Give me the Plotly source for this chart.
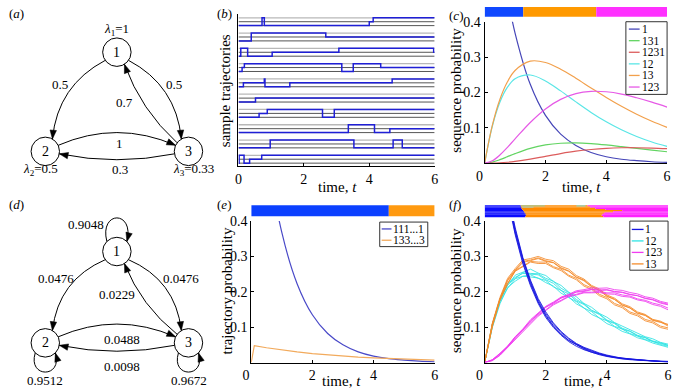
import math
import plotly.graph_objects as go

FONT = "Liberation Serif, Times New Roman, DejaVu Serif, serif"
W, H = 675, 390

# ======================= DATA =======================
# (b) sample trajectories: jump times and visited states
TRAJ_TIMES = [
    [0, 0.72, 0.79, 4.00, 4.12],
    [0, 0.39, 2.67],
    [0, 0.07, 0.28, 1.03, 3.07, 5.97],
    [0, 0.11, 0.18, 3.16, 3.51, 4.35],
    [0, 0.15, 0.79, 0.81, 1.57, 4.70],
    [0, 0.52],
    [0, 0.63, 0.88, 2.57, 2.93],
    [0, 3.36, 4.16, 4.63],
    [0, 0.97, 3.53, 4.73, 5.01],
    [0, 0.02, 0.17, 0.34, 0.71],
]
TRAJ_STATES = [
    [1, 3, 1, 2, 3],
    [1, 3, 2],
    [1, 3, 1, 2, 3, 2],
    [1, 2, 3, 1, 3, 2],
    [1, 2, 3, 1, 2, 3],
    [1, 2],
    [1, 2, 3, 1, 3],
    [1, 3, 1, 2],
    [1, 3, 1, 3, 1],
    [1, 3, 1, 2, 3],
]
STATES = [1, 2, 3]
T_MAX = 6

# (c) sequence probabilities (continuous time)
C_T = [0, 0.25, 0.5, 0.75, 1, 1.5, 2, 2.5, 3, 3.5, 4, 4.5, 5, 5.5, 6]
C_NAMES = ["1", "131", "1231", "12", "13", "123"]
C_VALUES = {
    "1":    [1.0, .779, .607, .472, .368, .223, .135, .082, .050, .030, .018, .011, .007, .004, .002],
    "131":  [0, .0030, .0098, .0183, .0269, .0417, .0515, .0563, .0571, .0551, .0514, .0468, .0419, .0369, .0323],
    "1231": [0, .0001, .0009, .0025, .0049, .0114, .0194, .0271, .0338, .0386, .0419, .0435, .0436, .0427, .0409],
    "12":   [0, .1037, .1723, .2149, .2386, .2493, .2326, .2044, .1733, .1436, .1170, .0943, .0754, .0598, .0473],
    "13":   [0, .1060, .1802, .2302, .2620, .2884, .2848, .2658, .2402, .2126, .1857, .1608, .1383, .1184, .1012],
    "123":  [0, .0066, .0230, .0448, .0686, .1151, .1534, .1803, .1965, .2030, .2019, .1954, .1849, .1725, .1585],
}
C_BAR_SEQ = ["1", "13", "123"]
C_BAR_EDGES = [0, 1.27, 3.67, 6]

# (e) trajectory probabilities (discrete time)
E_NAMES = ["111...1", "133...3"]
E_T = {
    "111...1": [0, 0.5, 1, 1.5, 2, 2.5, 3, 3.5, 4, 4.5, 5, 5.5, 6],
    "133...3": [0, 0.1, 0.5, 1, 1.5, 2, 2.5, 3, 3.5, 4, 4.5, 5, 5.5, 6],
}
E_VALUES = {
    "111...1": [1.0, .607, .368, .223, .135, .082, .050, .030, .018, .011, .007, .004, .002],
    "133...3": [0, .0476, .0417, .0353, .0299, .0253, .0214, .0181, .0153, .0130, .0110, .0093, .0079, .0067],
}
E_BAR_SEQ = ["111...1", "133...3"]
E_BAR_EDGES = [0, 4.5, 6]

# (f) simulated sequence probabilities (several realisations)
F_T = [0, 0.25, 0.5, 0.75, 1, 1.25, 1.5, 1.75, 2, 2.25, 2.5, 2.75, 3,
       3.25, 3.5, 3.75, 4, 4.25, 4.5, 4.75, 5, 5.25, 5.5, 5.75, 6]
F_NAMES = ["1", "12", "123", "13"]
F_RUNS = {
    "1": [
        [1.0, .775, .598, .472, .370, .291, .226, .171, .134, .104, .081, .062, .050, .040, .031, .024, .019, .015, .012, .010, .008, .006, .005, .004, .003],
        [1.0, .783, .613, .481, .381, .297, .233, .181, .143, .112, .088, .069, .054, .043, .034, .027, .021, .016, .012, .009, .007, .006, .004, .003, .002],
        [1.0, .769, .597, .463, .361, .279, .217, .167, .127, .099, .077, .059, .046, .036, .028, .022, .017, .013, .010, .008, .006, .005, .004, .003, .002],
        [1.0, .786, .616, .477, .376, .293, .229, .177, .138, .109, .085, .067, .052, .041, .032, .025, .019, .014, .011, .009, .007, .005, .004, .003, .003],
        [1.0, .777, .604, .475, .366, .284, .221, .172, .131, .102, .079, .063, .051, .038, .029, .023, .018, .014, .012, .009, .007, .005, .003, .002, .001],
    ],
    "12": [
        [0, .108, .180, .218, .247, .256, .264, .253, .246, .229, .218, .199, .186, .167, .156, .139, .128, .113, .103, .091, .083, .073, .067, .057, .052],
        [0, .099, .166, .212, .230, .244, .242, .239, .226, .216, .196, .185, .166, .154, .136, .126, .110, .101, .088, .081, .070, .064, .055, .050, .043],
        [0, .107, .173, .220, .238, .254, .252, .251, .238, .230, .210, .198, .178, .166, .148, .138, .120, .112, .097, .089, .077, .071, .061, .056, .048],
        [0, .101, .172, .210, .237, .244, .248, .238, .232, .214, .204, .184, .172, .154, .144, .126, .118, .102, .095, .082, .075, .065, .060, .051, .046],
        [0, .106, .175, .224, .241, .252, .250, .248, .234, .224, .204, .194, .174, .164, .146, .136, .118, .110, .094, .088, .075, .070, .059, .055, .049],
    ],
    "123": [
        [0, .008, .026, .047, .073, .095, .121, .140, .159, .171, .185, .193, .203, .206, .211, .210, .211, .206, .204, .198, .194, .186, .182, .173, .168],
        [0, .006, .020, .043, .064, .089, .109, .131, .146, .163, .174, .186, .191, .197, .197, .198, .194, .193, .187, .185, .177, .173, .164, .159, .149],
        [0, .007, .025, .045, .071, .093, .118, .137, .157, .169, .183, .191, .200, .203, .207, .205, .206, .201, .199, .193, .189, .181, .177, .168, .163],
        [0, .005, .021, .045, .066, .091, .112, .134, .149, .166, .176, .188, .193, .199, .199, .201, .197, .197, .191, .188, .180, .176, .168, .163, .154],
        [0, .007, .024, .045, .072, .092, .117, .136, .156, .168, .182, .190, .199, .201, .206, .204, .205, .200, .198, .192, .189, .182, .178, .170, .165],
    ],
    "13": [
        [0, .111, .184, .238, .266, .290, .294, .300, .292, .288, .272, .264, .246, .236, .218, .208, .191, .182, .166, .158, .143, .136, .122, .117, .106],
        [0, .103, .177, .224, .258, .272, .284, .280, .280, .268, .260, .244, .234, .216, .207, .189, .180, .163, .155, .139, .132, .118, .112, .099, .094],
        [0, .109, .180, .234, .262, .286, .290, .296, .288, .283, .268, .259, .242, .233, .215, .205, .188, .179, .163, .155, .140, .134, .120, .115, .103],
        [0, .101, .176, .222, .260, .274, .286, .284, .284, .271, .264, .247, .238, .220, .211, .193, .184, .167, .159, .143, .136, .122, .116, .103, .098],
        [0, .108, .179, .231, .260, .283, .288, .294, .286, .282, .266, .258, .241, .231, .214, .204, .187, .178, .162, .154, .139, .133, .119, .114, .108],
    ],
}
F_DRAW_ORDER = ["12", "13", "123", "1"]
# most likely sequence per realisation row: end of "1", end of "13"
F_BAR_BLUE_END = [1.18, 1.19, 1.21, 1.23, 1.26, 1.29, 1.31, 1.34, 1.35, 1.33]
F_BAR_ORANGE_END = [3.37, 3.45, 3.62, 3.95, 4.50, 4.20, 3.92, 3.86, 3.83, 3.88]
F_BAR_EXTRA = [(0, 1.19, 1.97, "#a8c890"), (1, 1.22, 1.60, "#b4c8a0"), (0, 3.00, 3.30, "#8fd8c8")]

# (a), (d) transition diagrams
A_RATES = {1: "1", 2: "0.5", 3: "0.33"}
A_EDGES = [(1, 2, "0.5"), (1, 3, "0.5"), (3, 1, "0.7"), (2, 3, "1"), (3, 2, "0.3")]
D_EDGES = [(1, 2, "0.0476"), (1, 3, "0.0476"), (3, 1, "0.0229"), (2, 3, "0.0488"), (3, 2, "0.0098")]
D_LOOPS = [(1, "0.9048"), (2, "0.9512"), (3, "0.9672")]

# ======================= STYLE / LAYOUT =======================
C_LINE = {"1": "#4646b8", "131": "#62d462", "1231": "#dc5c5c",
          "12": "#5ae6e6", "13": "#f2a04c", "123": "#e65ae6"}
E_LINE = {"111...1": "#4a4ac8", "133...3": "#f2aa5c"}
F_LINE = {"1": "#1616e0", "12": "#30e4e4", "123": "#f03cf0", "13": "#f58c2c"}
BAR = {"1": "#1048ff", "13": "#ff9900", "123": "#ff30ff",
       "111...1": "#0b40ff", "133...3": "#ff9a10"}
F_BAR = {"1": "#0a0aff", "13": "#ff8a00", "123": "#ff22ff"}

fig = go.Figure()

# ---------- (b) ----------
n_g = len(TRAJ_TIMES)
PITCH = 3.9


def level(k, s):
    return (n_g - 1 - k) * PITCH + (s - 1)


for shade, width, sts in (("#b8b8b8", 1.3, [3]), ("#555555", 1.0, [1, 2])):
    xs, ys = [], []
    for k in range(n_g):
        for s in sts:
            xs += [0, T_MAX, None]
            ys += [level(k, s), level(k, s), None]
    fig.add_trace(go.Scatter(x=xs, y=ys, mode="lines", line=dict(color=shade, width=width),
                             xaxis="x", yaxis="y", showlegend=False, hoverinfo="skip"))
for k in range(n_g):
    ts = TRAJ_TIMES[k] + [T_MAX]
    ss = TRAJ_STATES[k] + [TRAJ_STATES[k][-1]]
    fig.add_trace(go.Scatter(x=ts, y=[level(k, s) for s in ss], mode="lines",
                             line=dict(color="#1f1fd6", width=1.5, shape="hv"),
                             xaxis="x", yaxis="y", showlegend=False, hoverinfo="skip"))

# ---------- (c) ----------
for name in C_NAMES:
    fig.add_trace(go.Scatter(x=C_T, y=C_VALUES[name], mode="lines",
                             line=dict(color=C_LINE[name], width=1.2, shape="spline"),
                             xaxis="x2", yaxis="y2", showlegend=False, hoverinfo="skip"))

# ---------- (e) ----------
for name in E_NAMES:
    fig.add_trace(go.Scatter(x=E_T[name], y=E_VALUES[name], mode="lines",
                             line=dict(color=E_LINE[name], width=1.2,
                                       shape="spline" if name == "111...1" else "linear"),
                             xaxis="x3", yaxis="y3", showlegend=False, hoverinfo="skip"))

# ---------- (f) ----------
for name in F_DRAW_ORDER:
    for run in F_RUNS[name]:
        fig.add_trace(go.Scatter(x=F_T, y=run, mode="lines", opacity=0.85,
                                 line=dict(color=F_LINE[name], width=1),
                                 xaxis="x4", yaxis="y4", showlegend=False, hoverinfo="skip"))

# pixel overlay axis (for diagrams, labels, legends)
fig.add_trace(go.Scatter(x=[], y=[], xaxis="x5", yaxis="y5", showlegend=False, hoverinfo="skip"))

shapes = []
annotations = []


def txt(x, y, s, size=13, angle=0, xanchor="center"):
    annotations.append(dict(x=x, y=y, xref="x5", yref="y5", text=s, showarrow=False,
                            font=dict(family=FONT, size=size, color="black"),
                            xanchor=xanchor, yanchor="middle", textangle=angle))


def rect_px(x0, x1, y0, y1, fill, xref="x5", line=None):
    shapes.append(dict(type="rect", xref=xref, yref="y5", x0=x0, x1=x1, y0=y0, y1=y1,
                       fillcolor=fill, line=line or dict(width=0), layer="above"))


# colour bars
for i, seq in enumerate(C_BAR_SEQ):
    rect_px(C_BAR_EDGES[i], C_BAR_EDGES[i + 1], 0, 10, BAR[seq], xref="x2")
for i, seq in enumerate(E_BAR_SEQ):
    rect_px(E_BAR_EDGES[i], E_BAR_EDGES[i + 1], 202, 213, BAR[seq], xref="x3")
rows = len(F_BAR_BLUE_END)
RH = 12.0 / rows
for r in range(rows):
    y0 = 202 + r * RH
    y1 = y0 + RH + 0.05
    rect_px(0, F_BAR_BLUE_END[r], y0, y1, F_BAR["1"], xref="x4")
    rect_px(F_BAR_BLUE_END[r], F_BAR_ORANGE_END[r], y0, y1, F_BAR["13"], xref="x4")
    rect_px(F_BAR_ORANGE_END[r], T_MAX, y0, y1, F_BAR["123"], xref="x4")
for r, t0, t1, col in F_BAR_EXTRA:
    y0 = 202 + r * RH
    rect_px(t0, t1, y0, y0 + RH, col, xref="x4")


# manual legends
def legend(box, names, colors, x_line, x_text, y_first, dy, size=11.5):
    rect_px(box[0], box[1], box[2], box[3], "white", line=dict(color="#333333", width=1))
    for i, nm in enumerate(names):
        y = y_first + i * dy
        shapes.append(dict(type="line", xref="x5", yref="y5", x0=x_line[0], x1=x_line[1],
                           y0=y, y1=y, line=dict(color=colors[nm], width=1.3), layer="above"))
        txt(x_text, y, nm, size=size, xanchor="left")


legend((629, 671, 15, 89), C_NAMES, C_LINE, (632, 643), 643, 22.5, 11.8)
legend((378, 427, 219, 244), E_NAMES, E_LINE, (380, 390), 390, 226, 11.5)
legend((633, 672, 218, 268), F_NAMES, F_LINE, (635, 647), 646, 226.5, 11.7)

# ---------- diagrams ----------
R_NODE = 14.5
A_NODES = {1: (110, 46), 2: (37, 147), 3: (183, 147)}
D_NODES = {1: (110, 249), 2: (37, 342), 3: (183, 342)}
EDGE_GEOM = {(1, 2): (145, -60, 13), (1, 3): (35, -120, -13), (3, 1): (-143, 58, -6),
             (2, 3): (-25, -155, -13), (3, 2): (170, 10, -6)}
LOOP_GEOM = {1: (-135, -45, (-8, -32), (8, -32)), 2: (135, 45, (-8, 26), (8, 26)),
             3: (135, 45, (-8, 26), (8, 26))}


def on_circle(c, ang):
    a = math.radians(ang)
    return (c[0] + R_NODE * math.cos(a), c[1] + R_NODE * math.sin(a))


def arrow_head(tip, frm, L=9.0, Wd=3.3):
    dx, dy = tip[0] - frm[0], tip[1] - frm[1]
    d = math.hypot(dx, dy)
    ux, uy = dx / d, dy / d
    bx, by = tip[0] - L * ux, tip[1] - L * uy
    px, py = -uy, ux
    p = (f"M {tip[0]:.2f},{tip[1]:.2f} L {bx + Wd * px:.2f},{by + Wd * py:.2f} "
         f"L {bx - Wd * px:.2f},{by - Wd * py:.2f} Z")
    shapes.append(dict(type="path", xref="x5", yref="y5", path=p, fillcolor="black",
                       line=dict(color="black", width=0.5), layer="above"))


def draw_graph(nodes, edges):
    for n, c in nodes.items():
        shapes.append(dict(type="circle", xref="x5", yref="y5", x0=c[0] - R_NODE, x1=c[0] + R_NODE,
                           y0=c[1] - R_NODE, y1=c[1] + R_NODE, line=dict(color="black", width=1),
                           fillcolor="white", layer="above"))
        txt(c[0], c[1], str(n), size=14)
    for a, b, _ in edges:
        a0, a1, bend = EDGE_GEOM[(a, b)]
        p0 = on_circle(nodes[a], a0)
        p2 = on_circle(nodes[b], a1)
        dx, dy = p2[0] - p0[0], p2[1] - p0[1]
        L = math.hypot(dx, dy)
        nx, ny = -dy / L, dx / L
        cx = (p0[0] + p2[0]) / 2 + 2 * bend * nx
        cy = (p0[1] + p2[1]) / 2 + 2 * bend * ny
        shapes.append(dict(type="path", xref="x5", yref="y5",
                           path=f"M {p0[0]:.2f},{p0[1]:.2f} Q {cx:.2f},{cy:.2f} {p2[0]:.2f},{p2[1]:.2f}",
                           line=dict(color="black", width=1), layer="above"))
        arrow_head(p2, (cx, cy))


draw_graph(A_NODES, A_EDGES)
draw_graph(D_NODES, D_EDGES)

for n, _ in D_LOOPS:
    a0, a1, o0, o1 = LOOP_GEOM[n]
    p0 = on_circle(D_NODES[n], a0)
    p3 = on_circle(D_NODES[n], a1)
    c1 = (p0[0] + o0[0], p0[1] + o0[1])
    c2 = (p3[0] + o1[0], p3[1] + o1[1])
    shapes.append(dict(type="path", xref="x5", yref="y5",
                       path=(f"M {p0[0]:.2f},{p0[1]:.2f} C {c1[0]:.2f},{c1[1]:.2f} "
                             f"{c2[0]:.2f},{c2[1]:.2f} {p3[0]:.2f},{p3[1]:.2f}"),
                       line=dict(color="black", width=1), layer="above"))
    arrow_head(p3, c2)

# diagram labels
A_LABEL_POS = [(52, 79), (168, 79), (118, 97), (113, 139), (113, 165)]
for (a, b, lab), (x, y) in zip(A_EDGES, A_LABEL_POS):
    txt(x, y, lab, size=13)
A_RATE_POS = {1: (110, 23), 2: (32, 165), 3: (188, 165)}
for n, (x, y) in A_RATE_POS.items():
    txt(x, y, f"<i>λ</i><sub>{n}</sub>={A_RATES[n]}", size=13)
D_LABEL_POS = [(48, 276), (175, 276), (110, 293), (115, 339), (115, 366)]
for (a, b, lab), (x, y) in zip(D_EDGES, D_LABEL_POS):
    txt(x, y, lab, size=13)
D_LOOP_POS = {1: (78, 221), 2: (37, 380), 3: (184, 380)}
for n, lab in D_LOOPS:
    txt(D_LOOP_POS[n][0], D_LOOP_POS[n][1], lab, size=13)

# panel letters
for s, (x, y) in {"a": (8, 7), "b": (220, 7), "c": (456, 9),
                  "d": (8, 201), "e": (219, 201), "f": (455, 201)}.items():
    txt(x, y, f"(<i>{s}</i>)", size=13)

# axis titles
txt(221, 85, "sample trajectories", size=15, angle=-90)
txt(335, 183, "time, <i>t</i>", size=15)
txt(456, 85, "sequence probability", size=15, angle=-90)
txt(584, 183, "time, <i>t</i>", size=15)
txt(222, 289, "trajectory probability", size=15, angle=-90)
txt(339, 381, "time, <i>t</i>", size=15)
txt(456, 289, "sequence probability", size=15, angle=-90)
txt(586, 381, "time, <i>t</i>", size=15)

# ---------- axes ----------
TICKFONT = dict(family=FONT, size=14, color="black")
X_TICKS = [0, 2, 4, 6]
NB = "\u00a0"


def xax(dom, anchor, shift0):
    return dict(domain=dom, anchor=anchor, range=[0, T_MAX], showline=True, linecolor="black",
                linewidth=1, ticks="inside", ticklen=3, tickcolor="black", tickvals=X_TICKS,
                ticktext=[("0" + NB * 3) if shift0 else "0"] + [str(v) for v in X_TICKS[1:]],
                tickfont=TICKFONT, showgrid=False, zeroline=False, fixedrange=True)


Y_TICKS = [0.1, 0.2, 0.3, 0.4]


def yax(dom, anchor):
    return dict(domain=dom, anchor=anchor, range=[0, 0.4], showline=True, linecolor="black",
                linewidth=1, ticks="inside", ticklen=3, tickcolor="black", tickvals=Y_TICKS,
                ticktext=[f"{v:.1f}" for v in Y_TICKS], tickfont=TICKFONT,
                showgrid=False, zeroline=False, fixedrange=True)


fig.update_layout(
    width=W, height=H, autosize=False,
    margin=dict(l=0, r=0, t=0, b=0),
    paper_bgcolor="white", plot_bgcolor="rgba(0,0,0,0)",
    showlegend=False,
    font=dict(family=FONT, color="black"),
    xaxis=xax([234 / W, 434 / W], "y", False),
    yaxis=dict(domain=[1 - 162 / H, 1 - 7 / H], anchor="x", range=[-0.75, 38.1],
               showline=True, linecolor="black", linewidth=1, ticks="", showticklabels=False,
               showgrid=False, zeroline=False, fixedrange=True),
    xaxis2=xax([485 / W, 671 / W], "y2", True),
    yaxis2=yax([1 - 159 / H, 1 - 15 / H], "x2"),
    xaxis3=xax([247 / W, 434 / W], "y3", True),
    yaxis3=yax([1 - 362 / H, 1 - 218 / H], "x3"),
    xaxis4=xax([485 / W, 672 / W], "y4", True),
    yaxis4=yax([1 - 362 / H, 1 - 218 / H], "x4"),
    xaxis5=dict(domain=[0, 1], anchor="y5", range=[0, W], visible=False, fixedrange=True),
    yaxis5=dict(domain=[0, 1], anchor="x5", range=[H, 0], visible=False, fixedrange=True),
    shapes=shapes,
    annotations=annotations,
)

fig.write_html("out.html", config={"displayModeBar": False},
               post_script="document.body.style.margin='0px';document.body.style.padding='0px';")
